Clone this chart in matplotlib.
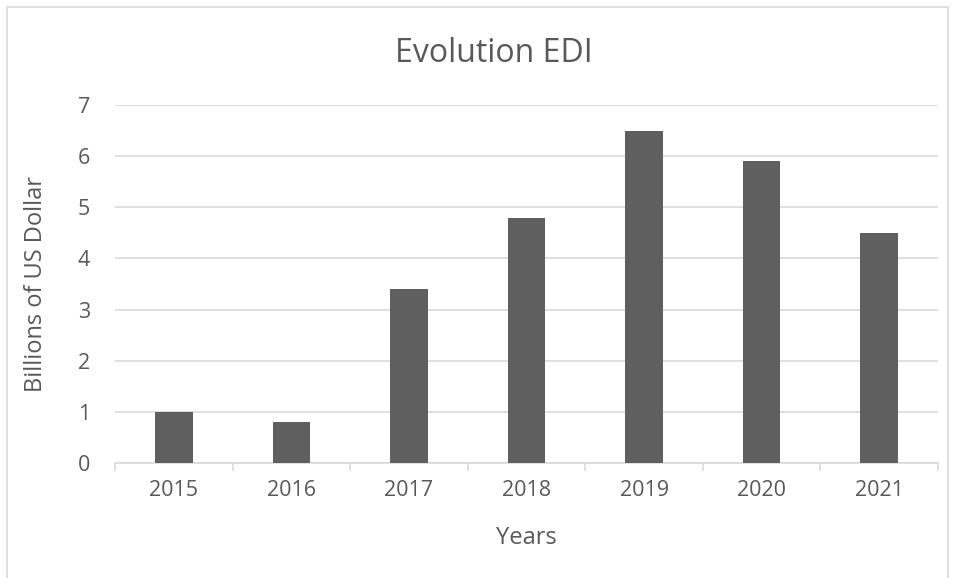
import matplotlib
matplotlib.use("Agg")
import matplotlib.pyplot as plt
from matplotlib.patches import Rectangle

years = ["2015", "2016", "2017", "2018", "2019", "2020", "2021"]
values = [1.0, 0.8, 3.4, 4.8, 6.5, 5.9, 4.5]
yticks = [0, 1, 2, 3, 4, 5, 6, 7]

plt.rcParams['font.family'] = ['Open Sans', 'DejaVu Sans']
txt = '#595959'
grid = '#d9d9d9'

W, H = 955, 578
fig = plt.figure(figsize=(W/100, H/100), dpi=100)
ax = fig.add_axes([115/W, (H-463)/H, (938-115)/W, (463-105)/H])

x = list(range(len(years)))
ax.bar(x, values, width=0.32, color='#5f5f5f', zorder=3)
ax.set_xlim(-0.5, len(years)-0.5)
ax.set_ylim(0, 7)
ax.set_yticks(yticks)
ax.set_yticklabels([str(v) for v in yticks])
ax.set_xticks(x)
ax.set_xticklabels(years)
ax.set_xticks([i - 0.5 for i in range(len(years)+1)], minor=True)
ax.tick_params(axis='x', which='major', length=0, pad=12, labelsize=15.5, colors=txt)
ax.tick_params(axis='x', which='minor', length=6, width=1.2, color=grid, direction='out')
ax.tick_params(axis='y', length=0, pad=18, labelsize=15.5, colors=txt)
for s in ['top', 'right', 'left']:
    ax.spines[s].set_visible(False)
ax.spines['bottom'].set_color(grid)
ax.spines['bottom'].set_linewidth(1.2)
ax.yaxis.grid(True, color=grid, linewidth=1.2, zorder=0)
ax.set_axisbelow(True)

ax.set_xlabel("Years", fontsize=17, color=txt, labelpad=18)
ax.set_ylabel("Billions of US Dollar", fontsize=17, color=txt, labelpad=21)
fig.text(494/W, 1 - 54/H, "Evolution EDI", ha='center', va='center', fontsize=23, color=txt)

fig.patches.append(Rectangle((7/W, -0.01), (948-7)/W, (H-7)/H + 0.01, transform=fig.transFigure,
                             fill=False, edgecolor=grid, linewidth=1.2))

fig.savefig("out.png", dpi=100)
